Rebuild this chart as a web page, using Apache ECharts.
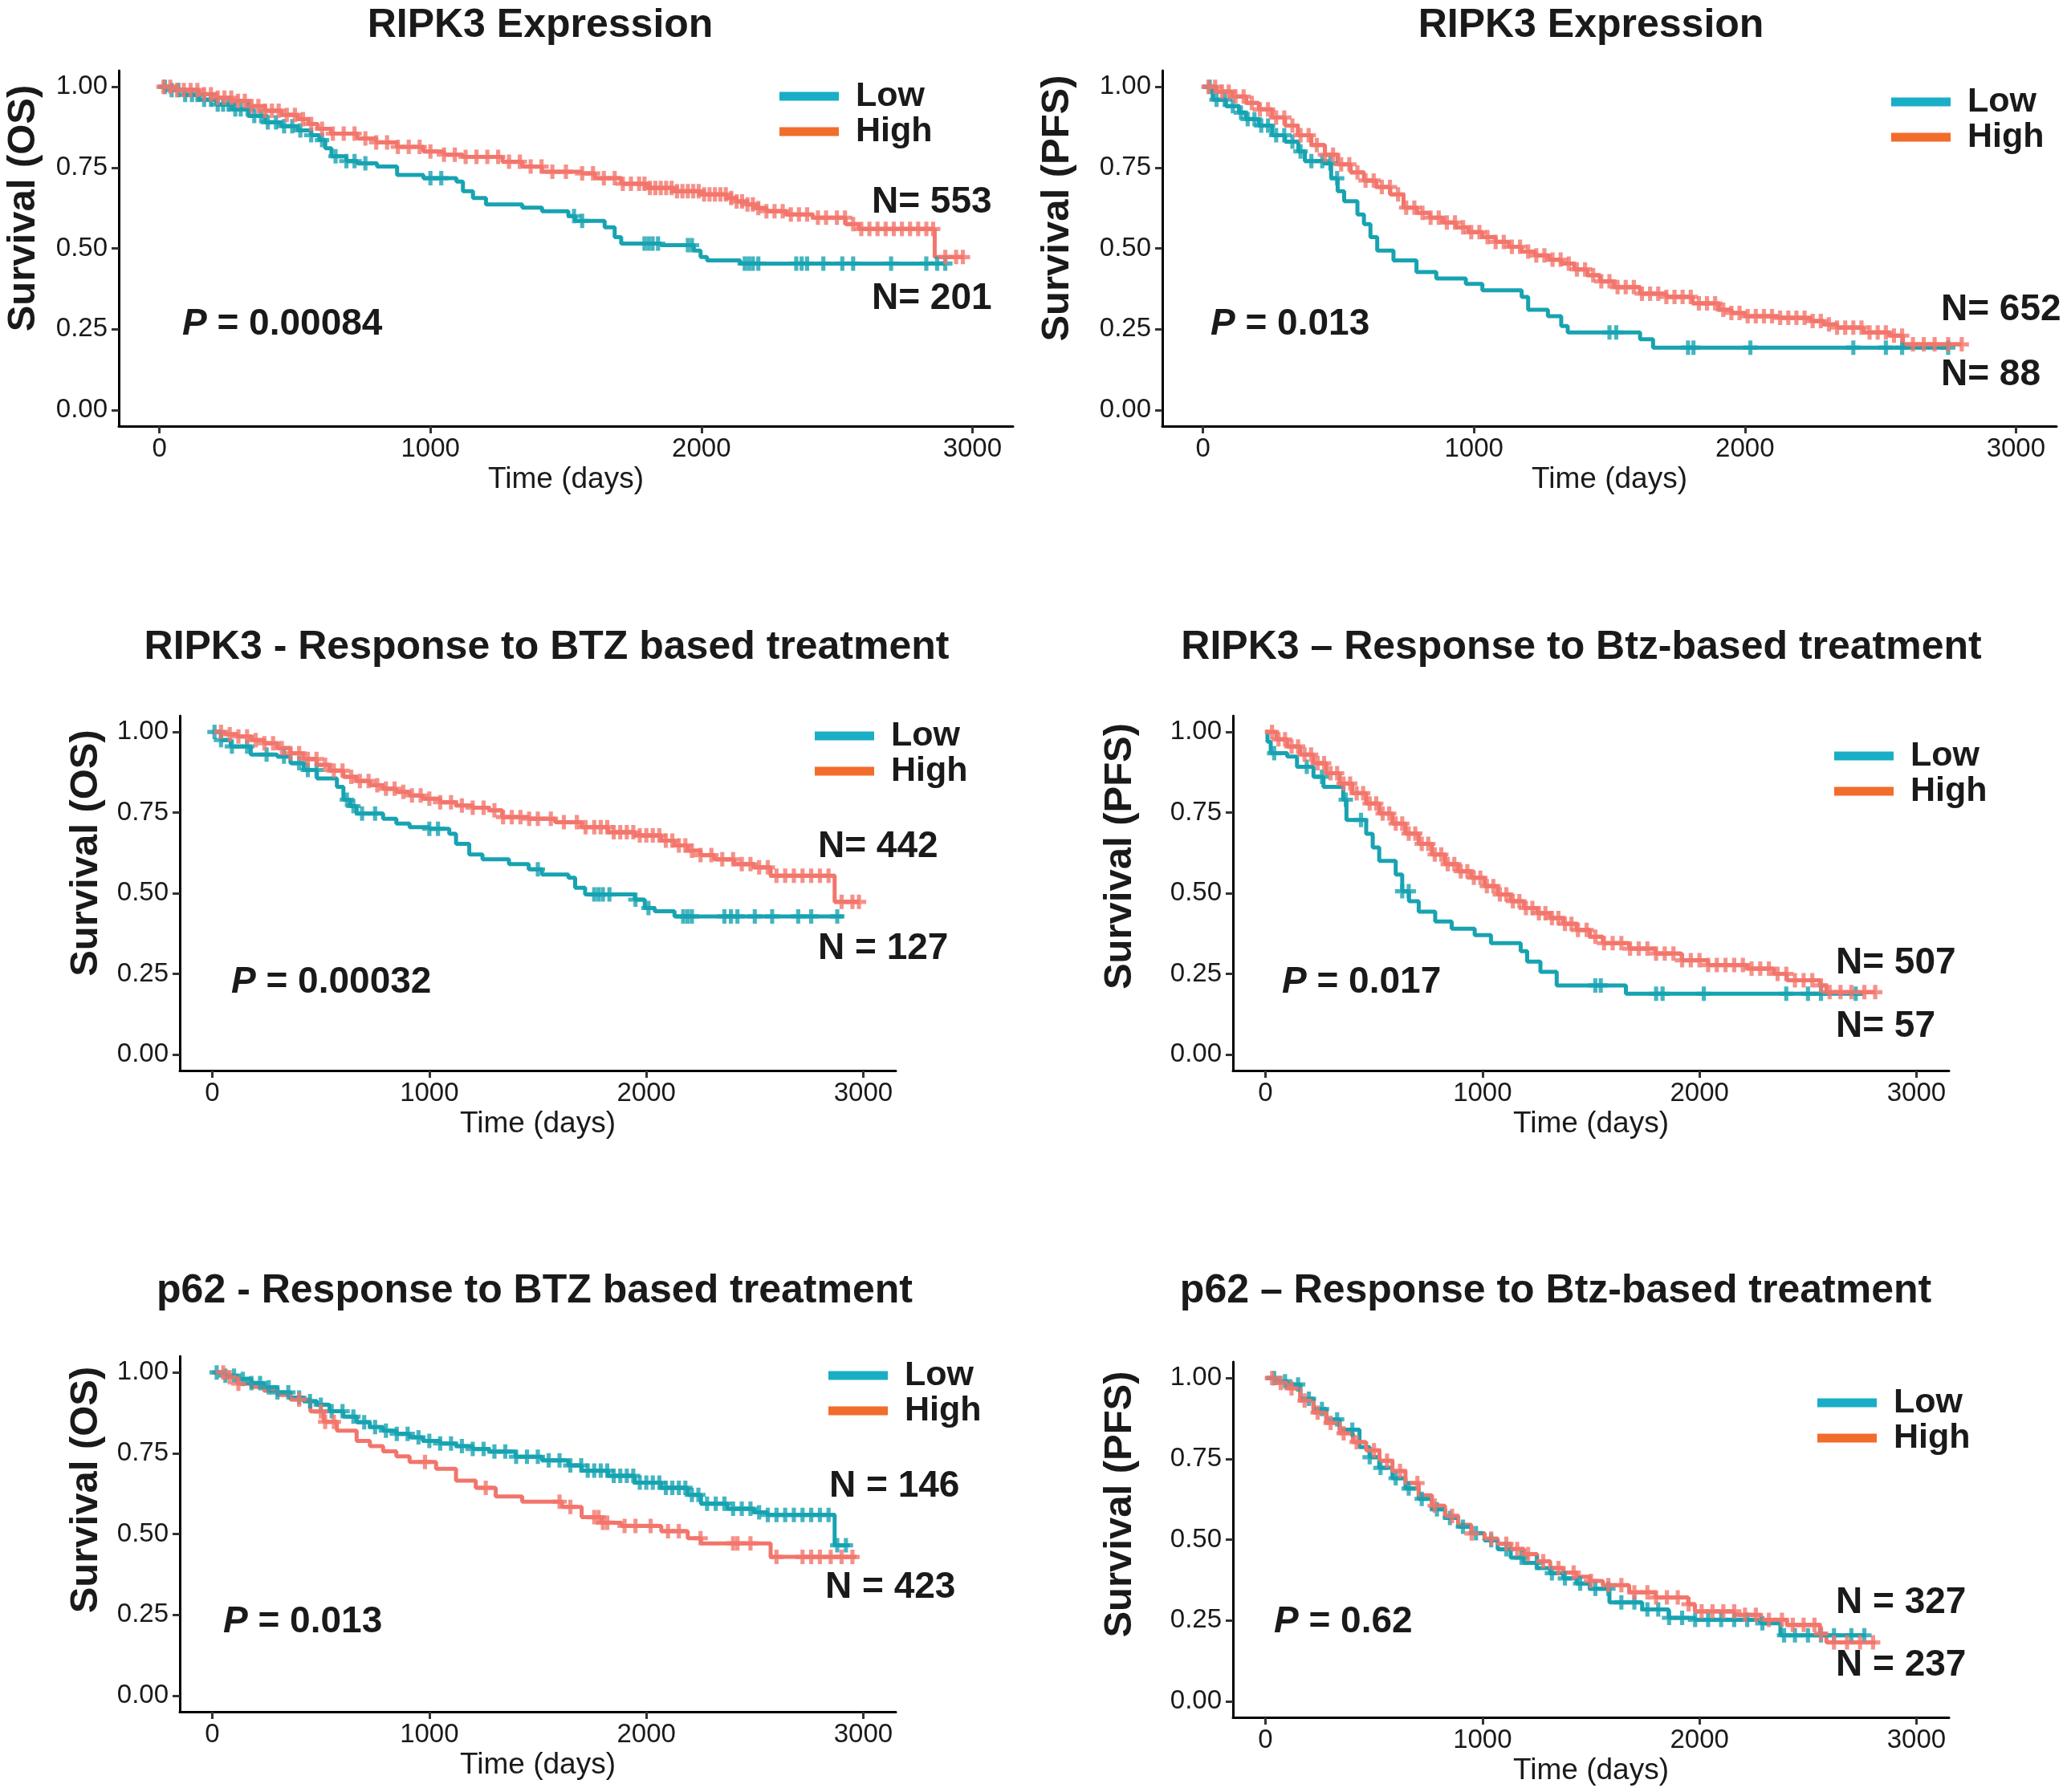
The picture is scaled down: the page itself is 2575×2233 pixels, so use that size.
<!DOCTYPE html>
<html>
<head>
<meta charset="utf-8">
<script src="https://cdn.jsdelivr.net/npm/echarts@6/dist/echarts.min.js"></script>
<style>
html,body{margin:0;padding:0;background:#fff;}
#chart{width:2575px;height:2233px;}
</style>
</head>
<body>
<div id="chart"></div>
<script>
// ---------- DATA ----------
const titles = ['RIPK3 Expression','RIPK3 Expression','RIPK3 - Response to BTZ based treatment','RIPK3 \u2013 Response to Btz-based treatment','p62 - Response to BTZ based treatment','p62 \u2013 Response to Btz-based treatment'];
const yTitles = ['Survival (OS)','Survival (PFS)','Survival (OS)','Survival (PFS)','Survival (OS)','Survival (PFS)'];
const xTitle = 'Time (days)';
const groupNames = ['Low','High'];
const pLabels = ['0.00084','0.013','0.00032','0.017','0.013','0.62'];
const nLabels = [['N= 553','N= 201'],['N= 652','N= 88'],['N= 442','N = 127'],['N= 507','N= 57'],['N = 146','N = 423'],['N = 327','N = 237']];
const xTicks = [0,1000,2000,3000];
const yTicks = [0,0.25,0.5,0.75,1];

// KM step curves: [time, survival]
const p1Low = [[0,1],[40,0.99],[90,0.975],[146,0.96],[210,0.945],[268,0.93],[330,0.91],[390,0.89],[450,0.878],[511,0.865],[560,0.85],[590,0.835],[612,0.81],[635,0.785],[690,0.77],[730,0.763],[803,0.753],[877,0.727],[974,0.717],[1096,0.707],[1120,0.677],[1157,0.656],[1205,0.636],[1339,0.626],[1412,0.615],[1509,0.60],[1534,0.585],[1643,0.565],[1680,0.535],[1704,0.515],[1850,0.51],[1972,0.493],[1997,0.473],[2021,0.463],[2143,0.453],[2900,0.453]];
const p1High = [[0,1],[60,0.99],[146,0.977],[210,0.966],[268,0.956],[330,0.94],[390,0.926],[450,0.913],[511,0.90],[550,0.885],[584,0.87],[633,0.855],[730,0.84],[800,0.828],[877,0.814],[974,0.80],[1050,0.79],[1120,0.783],[1266,0.768],[1339,0.753],[1412,0.737],[1558,0.732],[1607,0.717],[1704,0.70],[1801,0.687],[1899,0.677],[1997,0.667],[2094,0.656],[2130,0.645],[2167,0.636],[2200,0.625],[2240,0.615],[2313,0.605],[2411,0.595],[2532,0.575],[2581,0.56],[2861,0.473],[2970,0.473]];
const p2Low = [[0,1],[36,0.96],[85,0.94],[133,0.92],[158,0.90],[206,0.88],[255,0.85],[303,0.83],[352,0.80],[376,0.77],[449,0.763],[473,0.717],[497,0.677],[521,0.646],[570,0.605],[594,0.575],[618,0.535],[643,0.493],[703,0.463],[788,0.427],[861,0.407],[970,0.39],[1031,0.37],[1176,0.35],[1200,0.31],[1273,0.29],[1322,0.26],[1346,0.24],[1613,0.219],[1661,0.193],[2753,0.193]];
const p2High = [[0,1],[50,0.985],[109,0.97],[160,0.95],[206,0.93],[255,0.905],[303,0.88],[350,0.85],[400,0.82],[450,0.79],[497,0.76],[545,0.735],[594,0.71],[640,0.69],[691,0.667],[740,0.626],[790,0.61],[837,0.595],[885,0.58],[934,0.565],[980,0.55],[1031,0.535],[1080,0.52],[1128,0.505],[1175,0.49],[1225,0.478],[1275,0.465],[1322,0.453],[1370,0.435],[1419,0.417],[1465,0.398],[1516,0.38],[1613,0.36],[1710,0.35],[1807,0.33],[1904,0.31],[1950,0.30],[2001,0.29],[2122,0.285],[2243,0.275],[2290,0.265],[2340,0.255],[2437,0.24],[2534,0.23],[2583,0.203],[2801,0.203]];
const p3Low = [[0,1],[40,0.975],[85,0.955],[177,0.93],[299,0.924],[360,0.903],[421,0.882],[482,0.856],[574,0.83],[604,0.79],[635,0.77],[665,0.747],[787,0.731],[848,0.716],[909,0.705],[1000,0.70],[1092,0.684],[1123,0.653],[1184,0.62],[1245,0.605],[1367,0.59],[1458,0.574],[1519,0.558],[1641,0.548],[1672,0.517],[1718,0.496],[1947,0.48],[1993,0.454],[2039,0.444],[2130,0.428],[2908,0.428]];
const p3High = [[0,1],[60,0.993],[116,0.986],[180,0.975],[238,0.965],[300,0.95],[360,0.934],[420,0.916],[482,0.898],[540,0.88],[604,0.861],[665,0.848],[726,0.835],[787,0.824],[848,0.814],[909,0.803],[970,0.793],[1050,0.782],[1123,0.772],[1200,0.765],[1276,0.757],[1336,0.736],[1458,0.731],[1580,0.72],[1702,0.705],[1824,0.689],[1947,0.679],[2069,0.663],[2130,0.648],[2191,0.632],[2250,0.618],[2313,0.605],[2405,0.59],[2496,0.58],[2573,0.554],[2868,0.473],[2984,0.473]];
const p4Low = [[0,1],[9,0.97],[24,0.934],[100,0.924],[145,0.892],[221,0.861],[267,0.83],[358,0.79],[373,0.727],[464,0.684],[494,0.642],[524,0.60],[600,0.558],[630,0.506],[661,0.475],[706,0.443],[782,0.412],[858,0.39],[964,0.37],[1039,0.345],[1176,0.32],[1206,0.288],[1267,0.256],[1342,0.214],[1661,0.188],[2752,0.188]];
const p4High = [[0,1],[50,0.977],[100,0.955],[160,0.93],[221,0.903],[280,0.872],[342,0.84],[400,0.81],[464,0.778],[525,0.747],[585,0.716],[645,0.685],[706,0.653],[767,0.62],[827,0.59],[888,0.568],[948,0.548],[1010,0.522],[1070,0.496],[1130,0.475],[1191,0.454],[1252,0.438],[1312,0.423],[1372,0.405],[1433,0.386],[1495,0.365],[1555,0.345],[1676,0.328],[1797,0.313],[1918,0.292],[2039,0.277],[2221,0.266],[2342,0.25],[2403,0.23],[2555,0.214],[2585,0.193],[2812,0.193]];
const p5Low = [[0,1],[60,0.99],[116,0.98],[180,0.967],[238,0.954],[300,0.938],[360,0.922],[420,0.911],[482,0.90],[540,0.88],[604,0.863],[665,0.846],[726,0.831],[787,0.82],[848,0.81],[909,0.799],[970,0.788],[1050,0.78],[1123,0.772],[1200,0.763],[1276,0.755],[1397,0.739],[1519,0.728],[1641,0.712],[1702,0.696],[1824,0.68],[1947,0.659],[2069,0.643],[2191,0.621],[2252,0.594],[2374,0.578],[2496,0.567],[2557,0.559],[2868,0.465],[2938,0.465]];
const p5High = [[0,1],[60,0.985],[116,0.965],[180,0.955],[238,0.943],[300,0.93],[360,0.916],[452,0.879],[513,0.847],[574,0.82],[665,0.788],[726,0.772],[787,0.756],[848,0.74],[909,0.723],[1031,0.702],[1123,0.665],[1214,0.643],[1306,0.616],[1428,0.60],[1611,0.584],[1702,0.552],[1794,0.535],[1886,0.525],[2069,0.509],[2191,0.487],[2252,0.471],[2573,0.429],[2969,0.429]];
const p6Low = [[0,1],[50,0.99],[100,0.98],[161,0.936],[221,0.904],[280,0.872],[342,0.84],[433,0.786],[480,0.755],[524,0.722],[585,0.69],[645,0.658],[706,0.626],[767,0.594],[828,0.567],[888,0.54],[950,0.52],[1009,0.498],[1070,0.47],[1130,0.444],[1190,0.428],[1251,0.412],[1312,0.396],[1373,0.38],[1434,0.364],[1494,0.348],[1585,0.306],[1736,0.284],[1858,0.258],[1979,0.252],[2282,0.241],[2373,0.204],[2767,0.204]];
const p6High = [[0,1],[50,0.985],[100,0.968],[160,0.93],[221,0.893],[280,0.861],[342,0.829],[403,0.802],[464,0.776],[525,0.744],[585,0.712],[645,0.675],[706,0.637],[767,0.605],[827,0.573],[888,0.546],[948,0.519],[1010,0.503],[1070,0.487],[1130,0.471],[1191,0.455],[1252,0.433],[1312,0.412],[1372,0.398],[1433,0.385],[1495,0.372],[1555,0.359],[1676,0.337],[1797,0.321],[1948,0.30],[1979,0.278],[2161,0.267],[2282,0.252],[2403,0.236],[2555,0.209],[2585,0.182],[2812,0.182]];

// censoring times
const c1Low = [20,45,70,95,120,140,165,190,215,235,255,280,300,325,350,375,400,430,460,490,520,560,600,650,690,720,760,1000,1040,1530,1560,1790,1805,1820,1840,1950,1965,2160,2175,2190,2210,2350,2370,2390,2450,2520,2560,2700,2830,2870,2900];
const c1High = [15,40,65,90,115,140,165,190,215,240,265,290,315,340,365,390,415,440,470,500,530,560,600,640,680,720,760,800,840,880,920,960,1000,1050,1090,1130,1170,1210,1250,1290,1330,1370,1410,1450,1500,1560,1600,1640,1680,1710,1740,1770,1790,1810,1830,1850,1870,1890,1910,1930,1950,1970,1990,2010,2030,2050,2070,2090,2110,2130,2150,2170,2190,2210,2240,2270,2300,2330,2360,2390,2430,2460,2500,2530,2560,2590,2620,2650,2680,2710,2740,2770,2800,2830,2855,2900,2940,2965];
const c2Low = [25,50,80,110,140,165,190,215,240,270,300,330,360,400,440,470,495,1500,1525,1790,1810,2020,2400,2520,2580,2750];
const c2High = [20,45,70,95,120,150,180,210,240,270,300,330,360,390,420,450,480,510,540,570,600,630,660,690,720,750,780,810,840,870,900,930,960,990,1020,1050,1080,1110,1140,1170,1200,1230,1260,1290,1320,1350,1380,1410,1440,1470,1500,1530,1560,1590,1620,1650,1680,1710,1740,1770,1800,1830,1860,1890,1920,1950,1980,2010,2040,2070,2100,2130,2160,2190,2220,2250,2280,2310,2340,2370,2400,2430,2460,2490,2520,2550,2580,2620,2660,2700,2750,2800];
const c3Low = [10,40,90,160,250,330,400,440,480,620,650,690,750,1000,1040,1500,1760,1780,1800,1830,1950,2010,2170,2190,2210,2360,2390,2420,2500,2580,2700,2760,2880];
const c3High = [40,80,120,160,200,240,280,320,360,400,440,480,520,560,600,640,680,720,760,800,840,880,920,960,1000,1050,1100,1150,1200,1250,1300,1340,1380,1420,1460,1500,1560,1620,1680,1720,1760,1790,1820,1850,1880,1910,1940,1970,2000,2030,2060,2090,2120,2150,2180,2210,2250,2300,2350,2400,2440,2480,2520,2560,2600,2640,2680,2720,2760,2800,2840,2900,2950,2980];
const c4Low = [40,190,260,370,440,630,660,1520,1545,1800,1830,2020,2400,2500,2560,2720];
const c4High = [30,60,90,120,150,180,210,240,270,300,330,360,390,420,450,480,510,540,570,600,630,660,690,720,750,780,810,840,870,900,930,960,990,1020,1050,1080,1110,1140,1170,1200,1230,1260,1290,1320,1350,1380,1410,1440,1480,1520,1560,1600,1640,1680,1720,1760,1800,1840,1880,1920,1960,2000,2040,2080,2120,2160,2200,2240,2280,2320,2360,2400,2440,2480,2520,2560,2600,2650,2700,2760,2810];
const c5Low = [20,60,100,140,180,220,260,300,350,400,450,500,550,600,650,700,750,800,850,900,950,1000,1050,1100,1150,1200,1250,1300,1350,1400,1450,1500,1550,1600,1650,1700,1730,1760,1790,1820,1850,1880,1910,1940,1970,2000,2030,2060,2090,2120,2150,2180,2210,2240,2280,2320,2360,2400,2440,2480,2520,2560,2600,2640,2680,2720,2760,2800,2840,2880,2920];
const c5High = [50,80,120,400,500,520,560,980,1260,1600,1650,1760,1780,1800,1820,1900,1950,2020,2100,2150,2250,2400,2420,2480,2600,2720,2760,2800,2850,2900,2950];
const c6Low = [40,90,150,200,260,330,400,480,530,600,660,720,790,850,910,970,1040,1110,1180,1250,1320,1380,1450,1520,1580,1640,1700,1760,1810,1860,1920,1980,2040,2100,2160,2220,2290,2390,2440,2500,2560,2620,2700,2760];
const c6High = [30,70,120,180,240,300,360,420,500,560,620,700,780,860,950,1040,1110,1160,1210,1280,1350,1420,1500,1580,1640,1700,1760,1800,1850,1900,1950,2010,2060,2110,2160,2210,2260,2320,2380,2430,2480,2530,2560,2620,2680,2740,2800];

const curves = [[p1Low,p1High],[p2Low,p2High],[p3Low,p3High],[p4Low,p4High],[p5Low,p5High],[p6Low,p6High]];
const censors = [[c1Low,c1High],[c2Low,c2High],[c3Low,c3High],[c4Low,c4High],[c5Low,c5High],[c6Low,c6High]];

// ---------- LAYOUT / STYLE ----------
const FONT = '"Liberation Sans", Arial, Helvetica, sans-serif';
const TXT = '#1a1a1a';
const lineColors = ['#17A3B1','#F2756C'];
const legendColors = ['#19AEC6','#F26C2C'];
const grids = [
  {left:148, top:88, width:1114, height:443},
  {left:1448, top:88, width:1114, height:443},
  {left:224, top:892, width:892, height:442},
  {left:1536, top:892, width:892, height:442},
  {left:224, top:1690, width:892, height:443},
  {left:1536, top:1697, width:892, height:443}
];
const titlePos = [[668,2],[1977,2],[676,777],[1965,777],[661,1579],[1933,1579]];
const yNameGap = [94,106,92,116,92,116];
const yNameShift = [100,100,100,92,110,88];
const legendPos = [[966,93],[2351,100],[1010,890],[2280,915],[1027,1687],[2259,1721]];
const pPos = [[227,407],[1508,407],[288,1227],[1597,1227],[278,2024],[1587,2024]];
const nPos = [[[1086,255],[1086,375]],[[2418,389],[2418,470]],[[1019,1058],[1019,1185]],[[2287,1203],[2287,1282]],[[1033,1855],[1028,1981]],[[2287,2000],[2287,2078]]];

function survAt(curve, t){
  let s = curve[0][1];
  for (const p of curve){ if (p[0] <= t) s = p[1]; else break; }
  return s;
}
const plusPath = 'path://M-2,-7 L2,-7 L2,-2 L7,-2 L7,2 L2,2 L2,7 L-2,7 L-2,2 L-7,2 L-7,-2 L-2,-2 Z';

const option = {
  animation:false,
  backgroundColor:'#fff',
  title:[], grid:[], xAxis:[], yAxis:[], legend:[], series:[], graphic:[]
};

for (let i=0;i<6;i++){
  option.title.push({text:titles[i], left:titlePos[i][0], top:titlePos[i][1], textAlign:'center',
    textStyle:{fontFamily:FONT, fontSize:50, fontWeight:'bold', color:TXT}});
  option.grid.push(Object.assign({containLabel:false}, grids[i]));
  option.xAxis.push({type:'value', gridIndex:i, min:-150, max:3150,
    name:xTitle, nameLocation:'middle', nameGap:48,
    nameTextStyle:{fontFamily:FONT, fontSize:37, color:TXT},
    axisLine:{onZero:false, lineStyle:{color:'#000', width:3}},
    axisTick:{show:true, length:9, lineStyle:{color:'#333', width:3}, customValues:xTicks},
    axisLabel:{fontFamily:FONT, fontSize:33, color:TXT, margin:12, customValues:xTicks,
      formatter:v=>String(v)},
    splitLine:{show:false}});
  option.yAxis.push({type:'value', gridIndex:i, min:-0.05, max:1.05,
    name:yTitles[i], nameLocation:'middle', nameGap:yNameGap[i], nameRotate:90,
    nameTextStyle:{fontFamily:FONT, fontSize:49, fontWeight:'bold', color:TXT, padding:[0,0,0,yNameShift[i]]},
    axisLine:{onZero:false, lineStyle:{color:'#000', width:3}},
    axisTick:{show:true, length:9, lineStyle:{color:'#333', width:3}, customValues:yTicks},
    axisLabel:{fontFamily:FONT, fontSize:33, color:TXT, margin:14, customValues:yTicks,
      formatter:v=>v.toFixed(2)},
    splitLine:{show:false}});
  option.legend.push({orient:'vertical', left:legendPos[i][0], top:legendPos[i][1],
    icon:'rect', itemWidth:74, itemHeight:11, itemGap:0, selectedMode:false,
    textStyle:{fontFamily:FONT, fontSize:43, fontWeight:'bold', color:TXT, lineHeight:44, padding:[0,0,0,16]},
    data:groupNames.map((n,k)=>({name:n, itemStyle:{color:legendColors[k], borderWidth:0}}))});
  for (let g=0; g<2; g++){
    option.series.push({type:'line', name:groupNames[g], xAxisIndex:i, yAxisIndex:i,
      step:'end', showSymbol:false, symbol:'none', data:curves[i][g],
      lineStyle:{color:lineColors[g], width:5}, itemStyle:{color:lineColors[g]}, z:2+g});
  }
  for (let g=0; g<2; g++){
    option.series.push({type:'scatter', name:groupNames[g]+' censored', xAxisIndex:i, yAxisIndex:i,
      symbol:plusPath, symbolSize:18,
      data:censors[i][g].map(t=>[t, survAt(curves[i][g], t)]),
      itemStyle:{color:lineColors[g]}, z:4+g});
  }
  option.graphic.push({type:'text', left:pPos[i][0], top:pPos[i][1]-26,
    style:{text:'{i|P} = '+pLabels[i], fontFamily:FONT, fontSize:46, fontWeight:'bold', fill:TXT,
      rich:{i:{fontFamily:FONT, fontSize:46, fontWeight:'bold', fontStyle:'italic', fill:TXT}}}});
  for (let k=0;k<2;k++){
    option.graphic.push({type:'text', left:nPos[i][k][0], top:nPos[i][k][1]-26,
      style:{text:nLabels[i][k], fontFamily:FONT, fontSize:46, fontWeight:'bold', fill:TXT}});
  }
}

const chart = echarts.init(document.getElementById('chart'), null, {renderer:'canvas'});
chart.setOption(option);
</script>
</body>
</html>
